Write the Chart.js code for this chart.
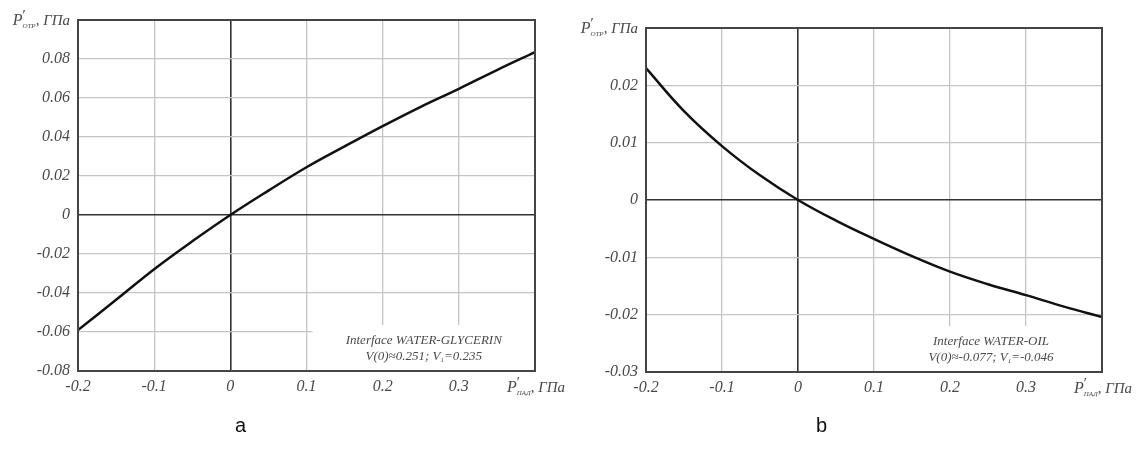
<!DOCTYPE html>
<html>
<head>
<meta charset="utf-8">
<script src="https://cdn.jsdelivr.net/npm/chart.js"></script>
<style>
  body { margin: 0; background: #fff; width: 1136px; height: 454px; position: relative; overflow: hidden; }
  .pane { position: absolute; top: 0; height: 454px; }
  .cap { position: absolute; top: 414px; font: 20px "Liberation Sans", Arial, sans-serif; color: #111; }
</style>
</head>
<body>
<div class="pane" style="left:568px;width:568px"><canvas id="chart-b"></canvas></div>
<div class="pane" style="left:0;width:600px"><canvas id="chart-a"></canvas></div>
<div class="cap" style="left:235px">a</div>
<div class="cap" style="left:816px">b</div>
<script>
// incident pressure, GPa
var incident = [-0.2, -0.15, -0.1, -0.05, 0, 0.05, 0.1, 0.15, 0.2, 0.25, 0.3, 0.35, 0.4];
// reflected pressure, GPa
var reflectedGlycerin = [-0.059, -0.0435, -0.0278, -0.0135, 0, 0.0125, 0.0245, 0.0352, 0.0456, 0.0555, 0.0647, 0.0743, 0.0835];
var reflectedOil = [0.023, 0.0155, 0.0094, 0.0043, 0, -0.0036, -0.0068, -0.0098, -0.0125, -0.0147, -0.0166, -0.0186, -0.0204];
var boxLines = {
  a: ["Interface WATER-GLYCERIN", ["V(0)≈0.251; V", "1", "=0.235"]],
  b: ["Interface WATER-OIL", ["V(0)≈-0.077; V", "1", "=-0.046"]]
};

Chart.defaults.font.family = "'Liberation Serif', 'Times New Roman', serif";
Chart.defaults.font.style = "italic";
Chart.defaults.font.size = 16;
Chart.defaults.color = "#4a4a4a";

function fmt(v) {
  return String(Number(v.toFixed(3)));
}

// runs of text with own size and vertical shift
function drawRuns(ctx, runs, x, y, align) {
  var total = 0;
  runs.forEach(function (r) {
    ctx.font = "italic " + r.size + "px 'Liberation Serif'";
    r.w = r.noAdvance ? 0 : ctx.measureText(r.t).width;
    total += r.w + (r.dx || 0);
  });
  var cx = align === "right" ? x - total : align === "center" ? x - total / 2 : x;
  ctx.textAlign = "left";
  ctx.textBaseline = "alphabetic";
  runs.forEach(function (r) {
    ctx.font = "italic " + r.size + "px 'Liberation Serif'";
    ctx.fillText(r.t, cx + (r.dx || 0), y + (r.dy || 0));
    cx += r.w + (r.dx || 0);
  });
}

function pLabel(sub) {
  return [
    {t: "P", size: 16},
    {t: "′", size: 15, dy: -5, dx: -1, noAdvance: true},
    {t: sub, size: 7, dy: 3, dx: 1},
    {t: ", ГПа", size: 15}
  ];
}

var extras = {
  id: "extras",
  beforeDatasetsDraw: function (chart, args, opts) {
    var ctx = chart.ctx, a = chart.chartArea, xs = chart.scales.x;
    var bx = xs.getPixelForValue(0.1) + 6;
    ctx.save();
    ctx.fillStyle = "#fff";
    ctx.fillRect(bx, a.bottom - 46, a.right - bx, 46);
    ctx.fillStyle = "#4a4a4a";
    var cx = (bx + a.right) / 2;
    drawRuns(ctx, [{t: opts.lines[0], size: 13}], cx, a.bottom - 27, "center");
    var l = opts.lines[1];
    drawRuns(ctx, [{t: l[0], size: 13}, {t: l[1], size: 7, dy: 2}, {t: l[2], size: 13}], cx, a.bottom - 11, "center");
    ctx.restore();
  },
  afterDraw: function (chart) {
    var ctx = chart.ctx, a = chart.chartArea;
    ctx.save();
    ctx.strokeStyle = "#444";
    ctx.lineWidth = 2;
    ctx.strokeRect(a.left, a.top, a.right - a.left, a.bottom - a.top);
    ctx.fillStyle = "#4a4a4a";
    drawRuns(ctx, pLabel("ОТР"), a.left - 8, a.top + 5, "right");
    drawRuns(ctx, pLabel("ПАД"), a.right - 28, a.bottom + 21, "left");
    ctx.restore();
  }
};

function makeChart(id, values, yMin, yMax, yStep, pad, lines) {
  var pts = incident.map(function (x, i) { return {x: x, y: values[i]}; });
  return new Chart(document.getElementById(id), {
    type: "scatter",
    data: {
      datasets: [{
        data: pts,
        showLine: true,
        borderColor: "#111",
        borderWidth: 2.5,
        pointRadius: 0,
        tension: 0.4,
        fill: false
      }]
    },
    options: {
      responsive: true,
      maintainAspectRatio: false,
      animation: false,
      layout: {padding: pad},
      plugins: {
        legend: {display: false},
        tooltip: {enabled: false},
        extras: {lines: lines}
      },
      scales: {
        x: {
          min: -0.2, max: 0.4,
          afterFit: function (s) { s.height = 30; },
          border: {display: false},
          grid: {
            drawTicks: false,
            color: function (c) { return c.tick && Math.abs(c.tick.value) < 1e-9 ? "#333" : "#c4c4c4"; },
            lineWidth: function (c) { return c.tick && Math.abs(c.tick.value) < 1e-9 ? 1.6 : 1.3; }
          },
          ticks: {
            stepSize: 0.1,
            padding: 6,
            maxRotation: 0,
            callback: function (v) { return v > 0.35 ? "" : fmt(v); }
          }
        },
        y: {
          min: yMin, max: yMax,
          afterFit: function (s) { s.width = 78; },
          border: {display: false},
          grid: {
            drawTicks: false,
            color: function (c) { return c.tick && Math.abs(c.tick.value) < 1e-9 ? "#333" : "#c4c4c4"; },
            lineWidth: function (c) { return c.tick && Math.abs(c.tick.value) < 1e-9 ? 1.6 : 1.3; }
          },
          ticks: {
            stepSize: yStep,
            padding: 8,
            callback: function (v) { return v > yMax - yStep / 2 ? "" : fmt(v); }
          }
        }
      }
    },
    plugins: [extras]
  });
}

makeChart("chart-a", reflectedGlycerin, -0.08, 0.1, 0.02, {left: 0, right: 65, top: 20, bottom: 53}, boxLines.a);
makeChart("chart-b", reflectedOil, -0.03, 0.03, 0.01, {left: 0, right: 34, top: 28, bottom: 52}, boxLines.b);
</script>
</body>
</html>
